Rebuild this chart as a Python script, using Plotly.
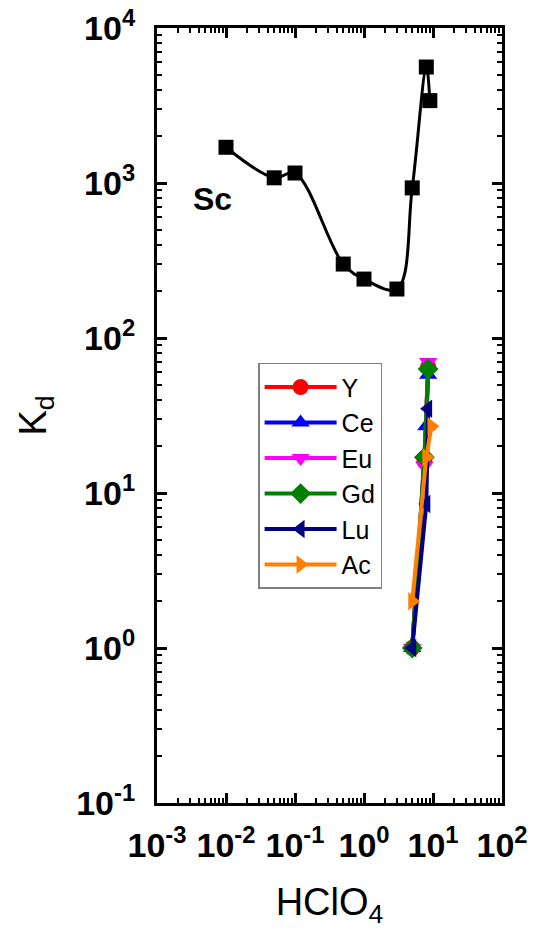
import plotly.graph_objects as go

# ---- data ----
sc_x = [0.01, 0.05, 0.1, 0.5, 1.0, 3.0, 5.0, 8.0, 9.0]
sc_y = [1700, 1080, 1160, 300, 240, 207, 930, 5600, 3400]

series_names = ["Y", "Ce", "Eu", "Gd", "Lu", "Ac"]
series_x = {
    "Y":  [5.0, 7.5, 8.5],
    "Ce": [5.0, 8.0, 8.5],
    "Eu": [5.0, 7.5, 8.5],
    "Gd": [5.0, 7.5, 8.5],
    "Lu": [5.0, 8.0, 8.5],
    "Ac": [5.0, 8.0, 9.5],
}
series_y = {
    "Y":  [1.0, 16, 65],
    "Ce": [1.0, 27, 58],
    "Eu": [1.0, 15, 70],
    "Gd": [1.0, 17, 63],
    "Lu": [1.0, 8.5, 35],
    "Ac": [2.0, 17, 27],
}
colors = {"Y": "#ff0000", "Ce": "#0000ff", "Eu": "#ff00ff",
          "Gd": "#008000", "Lu": "#000080", "Ac": "#ff8000"}
symbols = {"Y": "circle", "Ce": "triangle-up", "Eu": "triangle-down",
           "Gd": "diamond", "Lu": "triangle-left", "Ac": "triangle-right"}

x_tickvals = [1e-3, 1e-2, 1e-1, 1e0, 1e1, 1e2]
x_ticktext = ["10<sup>-3</sup>", "10<sup>-2</sup>", "10<sup>-1</sup>",
              "10<sup>0</sup>", "10<sup>1</sup>", "10<sup>2</sup>"]
y_tickvals = [1e-1, 1e0, 1e1, 1e2, 1e3, 1e4]
y_ticktext = ["10<sup>-1</sup>", "10<sup>0</sup>", "10<sup>1</sup>",
              "10<sup>2</sup>", "10<sup>3</sup>", "10<sup>4</sup>"]

FONT = "Liberation Sans, Arial, sans-serif"

fig = go.Figure()

fig.add_trace(go.Scatter(
    x=sc_x, y=sc_y, mode="lines+markers", showlegend=False,
    line=dict(color="black", width=3, shape="spline", smoothing=1.0),
    marker=dict(symbol="square", size=15, color="black"),
))

for name in series_names:
    fig.add_trace(go.Scatter(
        x=series_x[name], y=series_y[name], mode="lines+markers", name=name,
        line=dict(color=colors[name], width=4),
        marker=dict(symbol=symbols[name], size=16, color=colors[name]),
    ))

axis_common = dict(
    type="log", showgrid=False, zeroline=False, automargin=False,
    showline=True, linecolor="black", linewidth=3, mirror="allticks",
    ticks="inside", ticklen=10, tickwidth=2.5, tickcolor="black",
    minor=dict(ticks="inside", ticklen=5, tickwidth=2, tickcolor="black", dtick="D1", showgrid=False),
    tickfont=dict(family=FONT, size=34, color="black", weight="bold"),
)

fig.update_xaxes(**axis_common, range=[-3, 2], tickvals=x_tickvals, ticktext=x_ticktext,
                 ticklabelstandoff=10,
                 title=dict(text="HClO<sub>4</sub>", font=dict(family=FONT, size=38, color="black"),
                            standoff=26))
fig.update_yaxes(**axis_common, range=[-1, 4], tickvals=y_tickvals, ticktext=y_ticktext,
                 ticklabelstandoff=12,
                 title=dict(text="K<sub>d</sub>", font=dict(family=FONT, size=38, color="black"),
                            standoff=18))

fig.add_annotation(x=-2.19, y=2.90, xref="x", yref="y", text="<b>Sc</b>", showarrow=False,
                   font=dict(family=FONT, size=32, color="black"))

fig.update_layout(
    width=535, height=932,
    margin=dict(l=157, r=33, t=28, b=129),
    paper_bgcolor="white", plot_bgcolor="white",
    legend=dict(x=0.293, y=0.568, xanchor="left", yanchor="top",
                bordercolor="#808080", borderwidth=1.5, bgcolor="white",
                font=dict(family=FONT, size=25, color="black"),
                itemwidth=72, tracegroupgap=0),
)

fig.write_html("out.html")
